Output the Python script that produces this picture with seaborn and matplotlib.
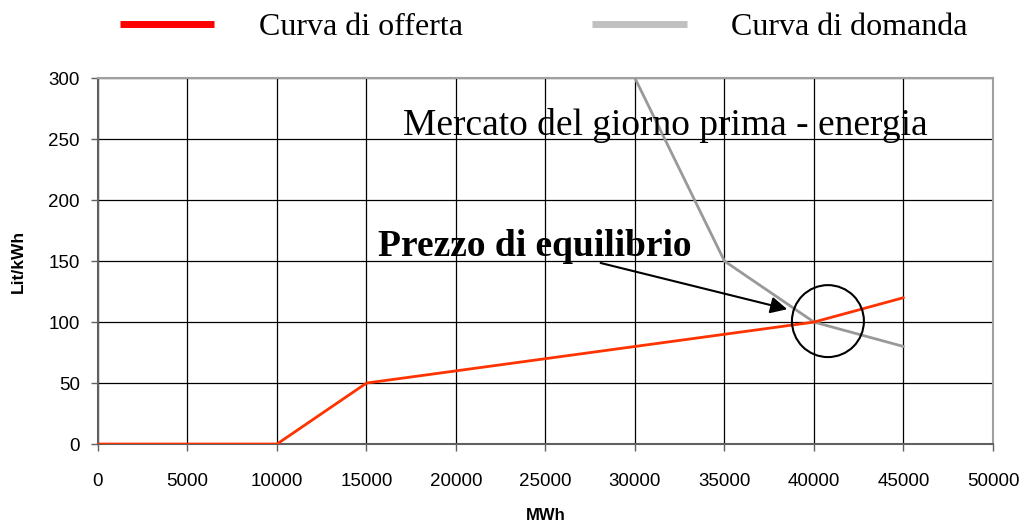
import pandas as pd
import seaborn as sns
import matplotlib.pyplot as plt
from matplotlib.patches import Ellipse

# data
offerta_mwh = [0, 10000, 15000, 40000, 45000]
offerta_prezzo = [0, 0, 50, 100, 120]
domanda_mwh = [30000, 35000, 40000, 45000]
domanda_prezzo = [300, 150, 100, 80]

offerta = pd.DataFrame({"MWh": offerta_mwh, "Lit/kWh": offerta_prezzo})
domanda = pd.DataFrame({"MWh": domanda_mwh, "Lit/kWh": domanda_prezzo})

sns.set_style("white")
plt.rcParams["font.family"] = ["Liberation Sans", "DejaVu Sans"]
plt.rcParams["text.color"] = "black"

fig = plt.figure(figsize=(10.26, 5.28), dpi=100)
ax = fig.add_axes([0.0955, 0.159, 0.8723, 0.693])

sns.lineplot(data=offerta, x="MWh", y="Lit/kWh", ax=ax, color="#ff3300", linewidth=2, label="Curva di offerta", zorder=4)
sns.lineplot(data=domanda, x="MWh", y="Lit/kWh", ax=ax, color="#999999", linewidth=2, label="Curva di domanda", zorder=3)

ax.set_xlim(0, 50000)
ax.set_ylim(0, 300)
ax.set_xticks(range(0, 50001, 5000))
ax.set_yticks(range(0, 301, 50))
ax.grid(True, color="black", linewidth=0.9)
ax.set_axisbelow(True)
for side in ["left", "bottom"]:
    ax.spines[side].set_color("#606060")
    ax.spines[side].set_linewidth(1.5)
for side in ["top", "right"]:
    ax.spines[side].set_color("#a0a0a0")
    ax.spines[side].set_linewidth(1.5)
ax.tick_params(axis="both", direction="out", length=5, width=1, color="#606060",
               labelsize=13.5, labelcolor="black", bottom=True, left=True)
ax.tick_params(axis="x", pad=16)
ax.tick_params(axis="y", pad=8)

ax.set_xlabel("MWh", fontweight="bold", fontsize=12, color="black", labelpad=13)
ax.set_ylabel("Lit/kWh", fontweight="bold", fontsize=12.5, color="black", labelpad=16)

# legend (lines drawn in the legend colours of the original)
leg = ax.legend(loc="center", ncol=2, frameon=False,
                prop={"family": "Liberation Serif", "size": 23},
                handlelength=2.95, handletextpad=1.4, columnspacing=4.05)
leg.set_bbox_to_anchor((544 / 1026, 1 - 27 / 528), transform=fig.transFigure)
leg.get_lines()[0].set_color("#ff0000")
leg.get_lines()[1].set_color("#c0c0c0")
for l in leg.get_lines():
    l.set_linewidth(5)
    l.set_solid_capstyle("butt")

ax.text(17040, 261.5, "Mercato del giorno prima - energia", family="Liberation Serif",
        fontsize=27, va="center", ha="left", color="black")
ax.text(15640, 162, "Prezzo di equilibrio", family="Liberation Serif", fontweight="bold",
        fontsize=27, va="center", ha="left", color="black")
ax.annotate("", xy=(38660, 110), xytext=(27930, 149),
            arrowprops=dict(arrowstyle="-|>", color="black", lw=1.5, mutation_scale=25))
ax.add_patch(Ellipse((40780, 100.8), 4020, 59, fill=False, edgecolor="black", linewidth=1.5, zorder=5))

fig.savefig("out.png", dpi=100)
